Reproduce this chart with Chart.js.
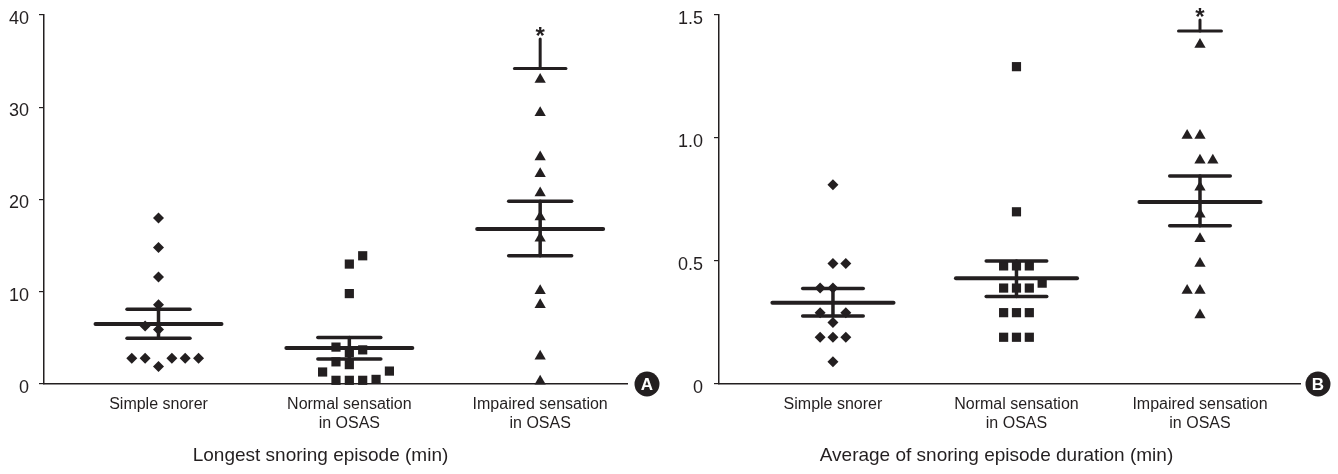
<!DOCTYPE html>
<html>
<head>
<meta charset="utf-8">
<script src="https://cdn.jsdelivr.net/npm/chart.js@4.4.0/dist/chart.umd.min.js"></script>
<style>
  html, body { margin: 0; padding: 0; background: #fff; }
  body { width: 1338px; height: 474px; position: relative; overflow: hidden; }
  canvas { position: absolute; top: 0; }
  #chartA { left: 0; }
  #chartB { left: 660px; }
</style>
</head>
<body>
<canvas id="chartA" width="660" height="474"></canvas>
<canvas id="chartB" width="678" height="474"></canvas>
<script>
const groups = [['Simple snorer'], ['Normal sensation', 'in OSAS'], ['Impaired sensation', 'in OSAS']];

// Panel A - longest snoring episode (min)
const simpleA = [18.0, 14.8, 11.6, 8.6, 6.3, 5.9, 2.8, 2.8, 2.8, 2.8, 2.8, 1.9];
const simpleAJitter = [0, 0, 0, 0, -1, 0, -2, -1, 1, 2, 3, 0];
const normalA = [13.9, 13.0, 9.8, 4.0, 3.7, 3.4, 2.4, 2.1, 1.3, 1.4, 0.4, 0.4, 0.4, 0.5];
const normalAJitter = [1, 0, 0, -1, 1, 0, -1, 0, -2, 3, -1, 0, 1, 2];
const impairedA = [33.0, 29.4, 24.6, 22.8, 20.7, 18.1, 15.8, 10.1, 8.6, 3.0, 0.3];
const impairedAJitter = [0, 0, 0, 0, 0, 0, 0, 0, 0, 0, 0];
const meanA = [6.5, 3.9, 16.8];
const seLowA = [4.95, 2.7, 13.9];
const seHighA = [8.1, 5.05, 19.8];
const sigBarA = [null, null, 34.2];
const sigTopA = [null, null, 37.4];
const yTicksA = [0, 10, 20, 30, 40];

// Panel B - average of snoring episode duration (min)
const simpleB = [0.81, 0.49, 0.49, 0.39, 0.39, 0.29, 0.29, 0.25, 0.19, 0.19, 0.19, 0.09];
const simpleBJitter = [0, 0, 1, -1, 0, -1, 1, 0, -1, 0, 1, 0];
const normalB = [1.29, 0.70, 0.48, 0.48, 0.48, 0.41, 0.39, 0.39, 0.39, 0.29, 0.29, 0.29, 0.19, 0.19, 0.19];
const normalBJitter = [0, 0, -1, 0, 1, 2, -1, 0, 1, -1, 0, 1, -1, 0, 1];
const impairedB = [1.38, 1.01, 1.01, 0.91, 0.91, 0.80, 0.69, 0.59, 0.49, 0.38, 0.38, 0.28];
const impairedBJitter = [0, -1, 0, 0, 1, 0, 0, 0, 0, -1, 0, 0];
const meanB = [0.33, 0.43, 0.74];
const seLowB = [0.276, 0.356, 0.643];
const seHighB = [0.388, 0.50, 0.846];
const sigBarB = [null, null, 1.435];
const sigTopB = [null, null, 1.48];
const yTicksB = [0, 0.5, 1.0, 1.5];

const INK = '#231f20';
const FONT = '"Liberation Sans", Arial, Helvetica, sans-serif';
const JITTER_STEP = 0.07;
const MEAN_HALF = 0.33;
const SE_HALF = 0.165;

function toPoints(values, jitter, groupIdx) {
    return values.map((v, i) => ({ x: groupIdx + 1 + jitter[i] * JITTER_STEP, y: v }));
}

function segment(points, width) {
    return {
        data: points.map(p => ({ x: p[0], y: p[1] })),
        showLine: true,
        borderColor: INK,
        borderWidth: width,
        borderCapStyle: 'round',
        pointRadius: 0,
        pointHoverRadius: 0,
        clip: false,
    };
}

function markers(points, style, radius) {
    return {
        data: points,
        showLine: false,
        pointStyle: style,
        pointRadius: radius,
        pointHoverRadius: radius,
        backgroundColor: INK,
        borderWidth: 0,
        clip: 6,
    };
}

function buildDatasets(series, means, seLow, seHigh, sigBar, sigTop, sigHalf) {
    const ds = [];
    // summary lines go first so they are painted over the markers
    means.forEach((m, i) => {
        const c = i + 1;
        ds.push(segment([[c - MEAN_HALF, m], [c + MEAN_HALF, m]], 4));
        ds.push(segment([[c - SE_HALF, seLow[i]], [c + SE_HALF, seLow[i]]], 3.5));
        ds.push(segment([[c - SE_HALF, seHigh[i]], [c + SE_HALF, seHigh[i]]], 3.5));
        ds.push(segment([[c, seLow[i]], [c, seHigh[i]]], 3.5));
        if (sigBar[i] !== null) {
            ds.push(segment([[c - sigHalf, sigBar[i]], [c + sigHalf, sigBar[i]]], 3));
            ds.push(segment([[c, sigBar[i]], [c, sigTop[i]]], 3));
        }
    });
    ds.push(markers(toPoints(series[0][0], series[0][1], 0), 'rectRot', 5.5));
    ds.push(markers(toPoints(series[1][0], series[1][1], 1), 'rect', 6.5));
    ds.push(markers(toPoints(series[2][0], series[2][1], 2), 'triangle', 6.5));
    return ds;
}

const panelDecor = {
    id: 'panelDecor',
    afterDraw(chart, args, opts) {
        const { ctx, chartArea, scales } = chart;
        ctx.save();
        ctx.textAlign = 'center';
        ctx.textBaseline = 'middle';

        // panel badge
        const bx = chartArea.right + opts.badgeGap;
        const by = chartArea.bottom;
        ctx.beginPath();
        ctx.arc(bx, by, 12.5, 0, Math.PI * 2);
        ctx.fillStyle = INK;
        ctx.fill();
        ctx.fillStyle = '#fff';
        ctx.font = 'bold 17px ' + FONT;
        ctx.fillText(opts.badge, bx, by + 1);

        // axis caption
        ctx.fillStyle = INK;
        ctx.font = '19px ' + FONT;
        ctx.fillText(opts.caption, (chartArea.left + chartArea.right) / 2 + opts.captionShift, chart.height - 18);

        // significance star above the bar
        opts.sigTop.forEach((v, i) => {
            if (v === null) return;
            const sx = scales.x.getPixelForValue(i + 1);
            const sy = scales.y.getPixelForValue(v);
            ctx.font = 'bold 24px ' + FONT;
            ctx.fillText('*', sx, sy - 2);
        });
        ctx.restore();
    }
};

function makeChart(id, cfg) {
    return new Chart(document.getElementById(id), {
        type: 'scatter',
        data: { datasets: cfg.datasets },
        options: {
            responsive: false,
            animation: false,
            events: [],
            layout: { autoPadding: false, padding: { top: 15, right: cfg.padRight, left: 0, bottom: 0 } },
            plugins: {
                legend: { display: false },
                tooltip: { enabled: false },
                panelDecor: cfg.decor,
            },
            scales: {
                x: {
                    type: 'linear',
                    min: cfg.xMin,
                    max: cfg.xMax,
                    afterBuildTicks: s => { s.ticks = [1, 2, 3].map(v => ({ value: v })); },
                    afterFit: s => { s.height = 90; s.paddingLeft = 0; s.paddingRight = 0; },
                    ticks: {
                        callback: v => groups[Math.round(v) - 1],
                        color: INK,
                        font: { family: FONT, size: 16, lineHeight: 1.2 },
                        padding: 11,
                        maxRotation: 0,
                        autoSkip: false,
                    },
                    grid: { display: false, drawTicks: false },
                    border: { display: true, color: INK, width: 1.5 },
                },
                y: {
                    min: cfg.yTicks[0],
                    max: cfg.yTicks[cfg.yTicks.length - 1],
                    afterBuildTicks: s => { s.ticks = cfg.yTicks.map(v => ({ value: v })); },
                    afterFit: s => { s.width = cfg.yWidth; s.paddingTop = 0; s.paddingBottom = 0; },
                    ticks: {
                        callback: cfg.yFormat,
                        color: INK,
                        font: { family: FONT, size: 18 },
                        padding: cfg.yPad,
                        labelOffset: 4,
                    },
                    grid: { display: true, drawOnChartArea: false, drawTicks: true, tickLength: 5, color: INK, lineWidth: 1.2 },
                    border: { display: true, color: INK, width: 1.5 },
                },
            },
        },
        plugins: [panelDecor],
    });
}

makeChart('chartA', {
    datasets: buildDatasets(
        [[simpleA, simpleAJitter], [normalA, normalAJitter], [impairedA, impairedAJitter]],
        meanA, seLowA, seHighA, sigBarA, sigTopA, 0.135),
    xMin: 0.4, xMax: 3.455,
    yTicks: yTicksA,
    yFormat: v => String(v),
    yWidth: 44, yPad: 10, padRight: 33,
    decor: { badge: 'A', badgeGap: 20, caption: 'Longest snoring episode (min)', captionShift: -15, sigTop: sigTopA },
});

makeChart('chartB', {
    datasets: buildDatasets(
        [[simpleB, simpleBJitter], [normalB, normalBJitter], [impairedB, impairedBJitter]],
        meanB, seLowB, seHighB, sigBarB, sigTopB, 0.117),
    xMin: 0.379, xMax: 3.545,
    yTicks: yTicksB,
    yFormat: v => (v === 0 ? '0' : v.toFixed(1)),
    yWidth: 59, yPad: 11, padRight: 38,
    decor: { badge: 'B', badgeGap: 18, caption: 'Average of snoring episode duration (min)', captionShift: -13, sigTop: sigTopB },
});
</script>
</body>
</html>
